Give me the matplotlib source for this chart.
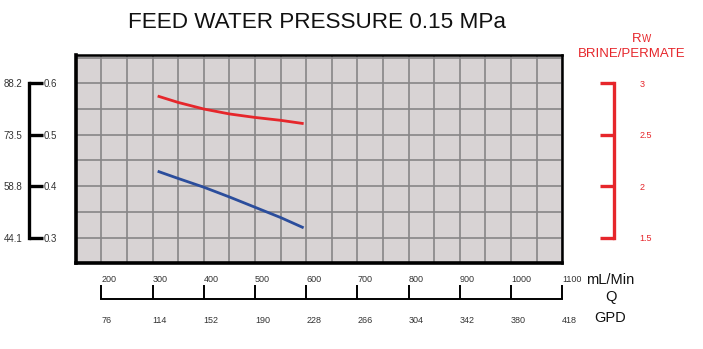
import numpy as np
import matplotlib
matplotlib.use('Agg')
import matplotlib.pyplot as plt
from matplotlib.ticker import FixedLocator, MultipleLocator

plt.rcParams['font.family'] = ['Liberation Sans', 'DejaVu Sans']

W, H = 703, 349

# flow (mL/min) and curves
flow = [310, 350, 400, 450, 500, 550, 595]
ratio_rw = [2.876, 2.814, 2.750, 2.702, 2.668, 2.640, 2.608]
pressure = [0.429, 0.415, 0.398, 0.379, 0.359, 0.339, 0.319]

flow_ticks = [200, 300, 400, 500, 600, 700, 800, 900, 1000, 1100]
gpd_labels = ['76', '114', '152', '190', '228', '266', '304', '342', '380', '418']

mpa_ticks = [0.3, 0.4, 0.5, 0.6]
psi_labels = ['44.1', '58.8', '73.5', '88.2']

rw_ticks = [1.5, 2, 2.5, 3]
rw_labels = ['1.5', '2', '2.5', '3']

RED = '#e6262b'
BLUE = '#2b4d9c'
TXT = '#333333'


def rect(x0, y0, x1, y1):
    # pixel box (top-left origin) -> figure fraction rect
    return [x0 / W, 1 - y1 / H, (x1 - x0) / W, (y1 - y0) / H]


fig = plt.figure(figsize=(W / 100, H / 100), dpi=100)

PX0, PX1, PY0, PY1 = 75.7, 562.3, 55.0, 263.3
XLIM = (150, 1100)
YLIM = (0.25, 0.655)
RLIM = (1.25, 3.275)

### main grid
ax = fig.add_axes(rect(PX0, PY0, PX1, PY1))
ax.set_facecolor('#d8d3d4')
ax.set_xlim(*XLIM)
ax.set_ylim(*YLIM)
ax.xaxis.set_major_locator(MultipleLocator(50))
ax.yaxis.set_major_locator(MultipleLocator(0.05))
ax.grid(True, color='#878587', lw=1.2)
ax.tick_params(length=0, labelleft=False, labelbottom=False)
for s in ['left', 'bottom']:
    ax.spines[s].set_linewidth(2.6)
for s in ['top', 'right']:
    ax.spines[s].set_linewidth(1.8)
ax.set_axisbelow(True)

ax.plot(flow, pressure, color=BLUE, lw=2.0, solid_capstyle='butt')

ax_rw = ax.twinx()
ax_rw.set_ylim(*RLIM)
ax_rw.axis('off')
ax_rw.plot(flow, ratio_rw, color=RED, lw=2.0, solid_capstyle='butt')

### left scale (MPa / psi)
ax_l = fig.add_axes(rect(29.3, PY0, 29.31, PY1))
ax_l.set_ylim(*YLIM)
for s in ['right', 'top', 'bottom']:
    ax_l.spines[s].set_visible(False)
ax_l.spines['left'].set_bounds(mpa_ticks[0], mpa_ticks[-1])
ax_l.spines['left'].set_linewidth(2.4)
ax_l.set_xticks([])
ax_l.yaxis.set_major_locator(FixedLocator(mpa_ticks))
ax_l.set_yticklabels(psi_labels)
ax_l.tick_params(axis='y', direction='in', length=10, width=2.4, pad=5,
                 labelsize=7, labelcolor=TXT)

ax_l2 = ax_l.twinx()
ax_l2.set_ylim(*YLIM)
for s in ax_l2.spines.values():
    s.set_visible(False)
ax_l2.yaxis.set_major_locator(FixedLocator(mpa_ticks))
ax_l2.set_yticklabels([f'{v:.1f}' for v in mpa_ticks])
ax_l2.tick_params(axis='y', length=0, pad=10, labelsize=7, labelcolor=TXT)

### right scale (Rw)
ax_r = fig.add_axes(rect(614.3, PY0, 614.31, PY1))
ax_r.set_ylim(*RLIM)
for s in ['right', 'top', 'bottom']:
    ax_r.spines[s].set_visible(False)
ax_r.spines['left'].set_bounds(rw_ticks[0], rw_ticks[-1])
ax_r.spines['left'].set_linewidth(2.4)
ax_r.spines['left'].set_color(RED)
ax_r.set_xticks([])
ax_r.yaxis.set_major_locator(FixedLocator(rw_ticks))
ax_r.set_yticklabels(rw_labels)
ax_r.tick_params(axis='y', direction='out', length=10, width=2.4, color=RED,
                 left=True, right=False, labelleft=False, labelright=True,
                 pad=8, labelsize=6.5, labelcolor=RED)

### bottom scale (mL/min and GPD)
ax_q = fig.add_axes(rect(PX0, 299.3, PX1, 299.31))
ax_q.set_xlim(*XLIM)
for s in ['left', 'right', 'top']:
    ax_q.spines[s].set_visible(False)
ax_q.spines['bottom'].set_bounds(flow_ticks[0], flow_ticks[-1])
ax_q.spines['bottom'].set_linewidth(1.4)
ax_q.set_yticks([])
ax_q.xaxis.set_major_locator(FixedLocator(flow_ticks))
ax_q.set_xticklabels([str(v) for v in flow_ticks])
ax_q.tick_params(axis='x', direction='in', length=10, width=1.4,
                 labelbottom=False, labeltop=True, top=False, pad=11,
                 labelsize=6.5, labelcolor=TXT)
for t in ax_q.xaxis.get_major_ticks():
    t.label2.set_horizontalalignment('left')

ax_g = fig.add_axes(rect(PX0, 299.3, PX1, 299.31))
ax_g.set_xlim(*XLIM)
ax_g.patch.set_visible(False)
for s in ax_g.spines.values():
    s.set_visible(False)
ax_g.set_yticks([])
ax_g.xaxis.set_major_locator(FixedLocator(flow_ticks))
ax_g.set_xticklabels(gpd_labels)
ax_g.tick_params(axis='x', length=0, pad=12, labelsize=6.5, labelcolor=TXT)
for t in ax_g.xaxis.get_major_ticks():
    t.label1.set_horizontalalignment('left')

### texts
fig.text(316.5 / W, 1 - 22 / H, 'FEED WATER PRESSURE 0.15 MPa',
         ha='center', va='center', fontsize=16.2, color='#111111')
fig.text(632 / W, 1 - 42 / H, 'R', ha='left', va='baseline', fontsize=9.5, color=RED)
fig.text(642 / W, 1 - 42 / H, 'W', ha='left', va='baseline', fontsize=7, color=RED)
fig.text(631.5 / W, 1 - 54 / H, 'BRINE/PERMATE', ha='center', va='center',
         fontsize=9.5, color=RED)
fig.text(610.5 / W, 1 - 280 / H, 'mL/Min', ha='center', va='center', fontsize=10.5, color='#111111')
fig.text(610.5 / W, 1 - 297 / H, 'Q', ha='center', va='center', fontsize=10.5, color='#111111')
fig.text(610.5 / W, 1 - 318 / H, 'GPD', ha='center', va='center', fontsize=10.5, color='#111111')

fig.savefig('out.png', dpi=100)
